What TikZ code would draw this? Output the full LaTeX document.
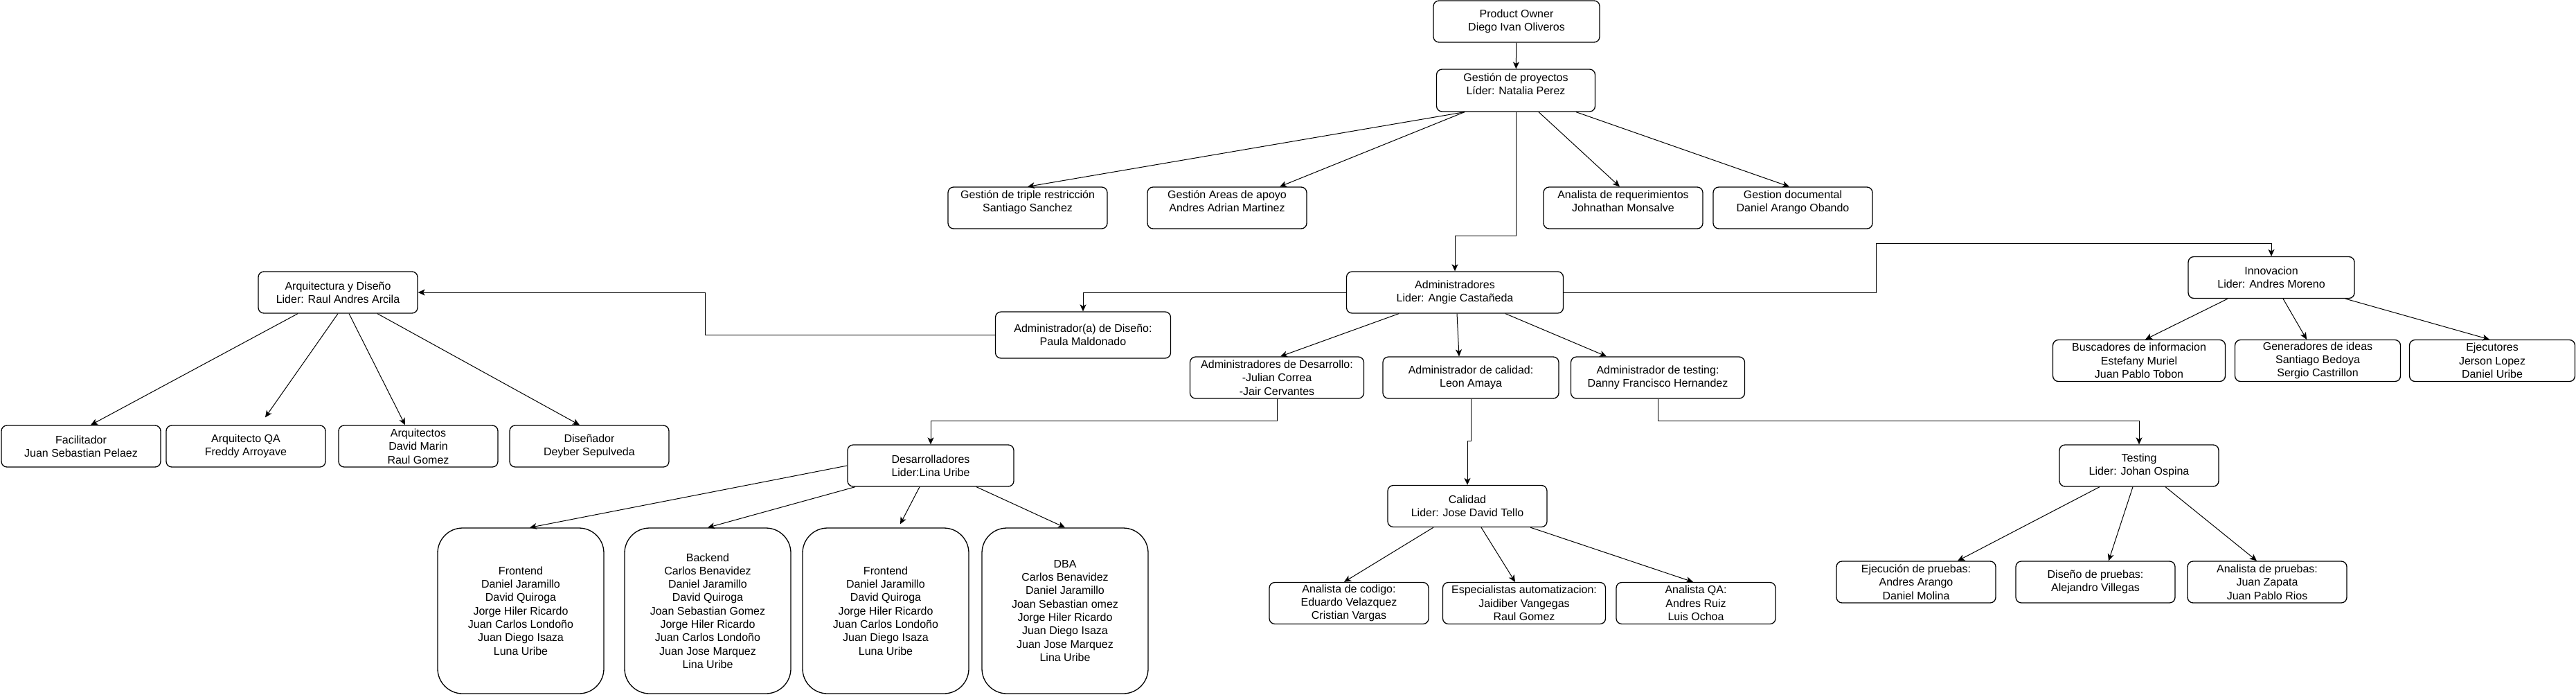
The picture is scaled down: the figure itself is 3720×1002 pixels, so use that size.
\documentclass[tikz,border=0pt]{standalone}
\usepackage{fontspec}
\setmainfont{Liberation Sans}
\usetikzlibrary{arrows.meta,calc}

\begin{document}
\begin{tikzpicture}[x=0.5pt,y=-0.5pt,line width=0.5pt,
 >={Stealth[length=5pt,width=4.5pt,inset=1.3pt]},
 box/.style={draw,line width=0.65pt,rounded corners=4pt,align=center,inner sep=0.5pt,
 font=\fontsize{8}{9.65}\selectfont,minimum width=115pt,minimum height=30pt},
 tall/.style={box,rounded corners=18pt,minimum width=120pt,minimum height=119.5pt}]
\useasboundingbox (0,0) rectangle (3720,1002);
\node[box,minimum width=120pt] (po) at (2190,31) {Product Owner\\Diego Ivan Oliveros};
\node[box,minimum width=114.5pt,minimum height=30.5pt] (gp) at (2189,130.5) {Gestión de proyectos\\Líder: Natalia Perez\\~};
\node[box] (triple) at (1484,300) {Gestión de triple restricción\\Santiago Sanchez\\~};
\node[box] (areas) at (1772,300) {Gestión Areas de apoyo\\Andres Adrian Martinez\\~};
\node[box] (areq) at (2344,300) {Analista de requerimientos\\Johnathan Monsalve\\~};
\node[box] (gdoc) at (2589,300) {Gestion documental\\Daniel Arango Obando\\~};

\node[box] (arq) at (488,422) {Arquitectura y Diseño\\Lider: Raul Andres Arcila};
\node[box] (fac) at (117,644) {Facilitador\\Juan Sebastian Pelaez};
\node[box] (aqa) at (355,644) {Arquitecto QA\\Freddy Arroyave};
\node[box] (arqs) at (604,644) {Arquitectos\\David Marin\\Raul Gomez};
\node[box] (dis) at (851,644) {Diseñador\\Deyber Sepulveda};

\node[box,minimum width=156.5pt] (adm) at (2101,422) {Administradores\\Lider: Angie Castañeda};
\node[box,minimum width=126.5pt,minimum height=33.5pt] (admdis) at (1564,483.5) {Administrador(a) de Diseño:\\Paula Maldonado};
\node[box,minimum width=125.5pt] (admdes) at (1844,545) {Administradores de Desarrollo:\\-Julian Correa\\-Jair Cervantes};
\node[box,minimum width=127pt] (admcal) at (2124,545) {Administrador de calidad:\\Leon Amaya};
\node[box,minimum width=125.5pt] (admtest) at (2394,545) {Administrador de testing:\\Danny Francisco Hernandez};

\node[box,minimum width=120pt] (inn) at (3280,400.5) {Innovacion\\Lider: Andres Moreno};
\node[box,minimum width=124.5pt] (bus) at (3089,520.5) {Buscadores de informacion\\Estefany Muriel\\Juan Pablo Tobon};
\node[box,minimum width=119.5pt] (gen) at (3347,520.5) {Generadores de ideas\\Santiago Bedoya\\Sergio Castrillon};
\node[box,minimum width=119.5pt] (eje) at (3599,520.5) {Ejecutores\\Jerson Lopez\\Daniel Uribe};

\node[box,minimum width=120pt] (desa) at (1344,672) {Desarrolladores\\Lider:Lina Uribe};
\node[tall] (fe1) at (752,881.5) {Frontend\\Daniel Jaramillo\\David Quiroga\\Jorge Hiler Ricardo\\Juan Carlos Londoño\\Juan Diego Isaza\\Luna Uribe};
\node[tall] (be) at (1022,881.5) {Backend\\Carlos Benavidez\\Daniel Jaramillo\\David Quiroga\\Joan Sebastian Gomez\\Jorge Hiler Ricardo\\Juan Carlos Londoño\\Juan Jose Marquez\\Lina Uribe};
\node[tall] (fe2) at (1279,881.5) {Frontend\\Daniel Jaramillo\\David Quiroga\\Jorge Hiler Ricardo\\Juan Carlos Londoño\\Juan Diego Isaza\\Luna Uribe};
\node[tall] (dba) at (1538,881.5) {DBA\\Carlos Benavidez\\Daniel Jaramillo\\Joan Sebastian omez\\Jorge Hiler Ricardo\\Juan Diego Isaza\\Juan Jose Marquez\\Lina Uribe};

\node[box] (cal) at (2119,730.5) {Calidad\\Lider: Jose David Tello};
\node[box] (acod) at (1948,870.5) {Analista de codigo:\\Eduardo Velazquez\\Cristian Vargas};
\node[box,minimum width=117.5pt] (esp) at (2201,870.5) {Especialistas automatizacion:\\Jaidiber Vangegas\\Raul Gomez};
\node[box] (aqa2) at (2449,870.5) {Analista QA:\\Andres Ruiz\\Luis Ochoa};

\node[box] (test) at (3089,672) {Testing\\Lider: Johan Ospina};
\node[box] (ejp) at (2767,840) {Ejecución de pruebas:\\Andres Arango\\Daniel Molina};
\node[box] (disp) at (3026,840) {Diseño de pruebas:\\Alejandro Villegas};
\node[box] (anp) at (3274,840) {Analista de pruebas:\\Juan Zapata\\Juan Pablo Rios};

\draw[->] (po) -- (gp);
\draw[->] ($(gp.south)+(-74,0)$) -- (triple.north);
\draw[->] ($(gp.south)+(-74,0)$) -- ($(areas.north)+(76,0)$);
\draw[->] ($(gp.south)+(33,0)$) -- ($(areq.north)+(-5,0)$);
\draw[->] ($(gp.south)+(87,0)$) -- ($(gdoc.north)+(-5,0)$);
\draw[->] (gp.south) -- ++(0,179) -| (adm.north);

\draw[->] (adm.west) -| (admdis.north);
\draw[->] (admdis.west) -- ++(-418,0) |- (arq.east);
\draw[->] (adm.east) -- ++(451,0) -- ++(0,-71) -| (inn.north);
\draw[->] ($(adm.south)+(-81,0)$) -- ($(admdes.north)+(5,0)$);
\draw[->] ($(adm.south)+(3,0)$) -- ($(admcal.north)+(-17,0)$);
\draw[->] ($(adm.south)+(73,0)$) -- ($(admtest.north)+(-74,0)$);
\draw[->] (admdes.south) -- ++(0,32) -| (desa.north);
\draw[->] (admcal.south) -- ++(0,61) -| (cal.north);
\draw[->] (admtest.south) -- ++(0,32) -| (test.north);

\draw[->] ($(arq.south)+(-58,0)$) -- ($(fac.north)+(14,0)$);
\draw[->] (arq.south) -- ($(aqa.north)+(28,-11)$);
\draw[->] ($(arq.south)+(16,0)$) -- ($(arqs.north)+(-19,0)$);
\draw[->] ($(arq.south)+(57,0)$) -- ($(dis.north)+(-14,0)$);

\draw[->] ($(inn.south)+(-63,0)$) -- ($(bus.north)+(9,0)$);
\draw[->] ($(inn.south)+(17,0)$) -- ($(gen.north)+(-16,0)$);
\draw[->] ($(inn.south)+(107,0)$) -- ($(eje.north)+(-4,0)$);

\draw[->] (desa.west) -- ($(fe1.north)+(13,0)$);
\draw[->] ($(desa.south)+(-109,0)$) -- (be.north);
\draw[->] ($(desa.south)+(-16,0)$) -- ($(fe2.north)+(21,-5)$);
\draw[->] ($(desa.south)+(66,0)$) -- (dba.north);

\draw[->] ($(cal.south)+(-49,0)$) -- ($(acod.north)+(-7,0)$);
\draw[->] ($(cal.south)+(20,0)$) -- ($(esp.north)+(-13,0)$);
\draw[->] ($(cal.south)+(91,0)$) -- ($(aqa2.north)+(-4,0)$);

\draw[->] ($(test.south)+(-57,0)$) -- ($(ejp.north)+(60,0)$);
\draw[->] ($(test.south)+(-9,0)$) -- ($(disp.north)+(19,0)$);
\draw[->] ($(test.south)+(38,0)$) -- ($(anp.north)+(-15,0)$);
\end{tikzpicture}
\end{document}
